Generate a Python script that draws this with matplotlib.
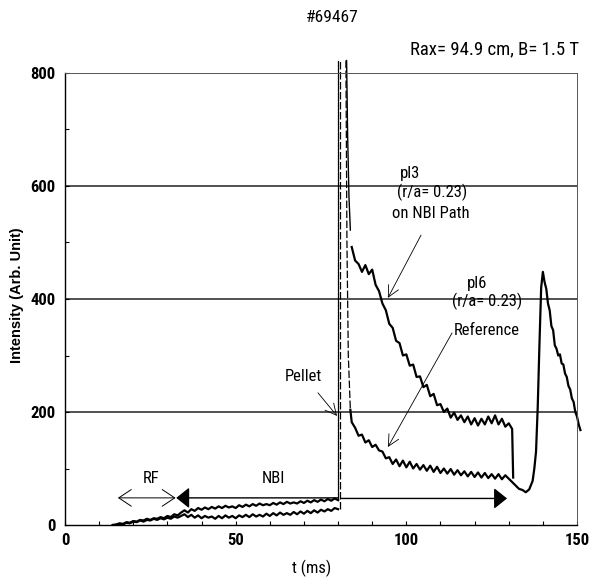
import numpy as np
import matplotlib
matplotlib.use('Agg')
import matplotlib.pyplot as plt
from matplotlib import font_manager

# --- data ---
# pre-pellet traces, t = 14 .. 80 ms (1 ms steps)
pl3_pre = [0, 1, 3, 2, 5, 4, 7, 6, 9, 8,
           11, 9, 12, 11, 14, 12, 16, 14, 19, 17,
           22, 26, 22, 28, 25, 30, 27, 31, 28, 32,
           29, 33, 30, 34, 31, 33, 30, 35, 32, 36,
           33, 37, 34, 38, 35, 37, 35, 39, 36, 40,
           37, 41, 38, 40, 38, 42, 39, 43, 40, 44,
           41, 45, 42, 46, 43, 47, 44]
pl6_pre = [0, 0, 2, 1, 4, 3, 6, 5, 8, 6,
           9, 8, 11, 9, 12, 10, 13, 11, 15, 13,
           16, 19, 14, 18, 13, 17, 12, 16, 13, 15,
           11, 16, 12, 17, 13, 16, 12, 17, 14, 18,
           14, 19, 15, 18, 15, 20, 16, 21, 17, 22,
           18, 21, 18, 23, 19, 24, 20, 25, 21, 26,
           22, 27, 24, 28, 25, 30, 28]
t_pre = np.arange(14, 14 + len(pl3_pre))

# pellet spike (drawn off the top of the frame)
pl3_spike_t = [82.5, 82.8, 83.2, 83.6]
pl3_spike_v = [822, 690, 580, 522]
pl6_spike_t = [82.3, 82.6, 83.0, 83.6]
pl6_spike_v = [822, 500, 300, 204]

# pl3 after pellet, t = 84 .. 131 ms
pl3_post = [492, 468, 462, 448, 460, 444, 452, 425, 414, 392,
            380, 356, 349, 326, 322, 300, 302, 282, 284, 262,
            263, 244, 248, 228, 232, 212, 214, 200, 206, 190,
            199, 186, 194, 182, 192, 178, 189, 176, 188, 178,
            192, 180, 194, 178, 188, 174, 180, 170]
t3_post = np.arange(84, 84 + len(pl3_post))

# pl6 after pellet
t6_post = [83.6] + list(range(84, 138)) + [
    137.5, 138, 138.5, 139, 139.5, 140, 140.5, 141, 141.5, 142,
    142.5, 143, 143.5, 144, 144.5, 145, 145.5, 146, 146.5, 147,
    147.5, 148, 148.5, 149, 149.5, 150, 150.5, 151]
pl6_post = [204,
            182, 172, 158, 160, 146, 150, 138, 142, 132, 130, 118, 120,
            108, 116, 104, 114, 102, 112, 100, 108, 98, 106,
            96, 105, 94, 103, 92, 100, 91, 99, 89, 97,
            88, 95, 86, 94, 85, 93, 84, 92, 83, 90,
            82, 90, 81, 88, 82, 76, 70, 64, 62, 58, 63, 78,
            100, 130, 210, 320, 420, 448, 430, 418, 392, 380,
            352, 345, 318, 312, 300, 302, 286, 284, 268, 262,
            246, 240, 224, 218, 200, 192, 178, 168]

names = {f.name for f in font_manager.fontManager.ttflist}
narrow = 'Liberation Sans'
for cand in ['Liberation Sans Narrow', 'Arial Narrow', 'Roboto Condensed',
             'Archivo Narrow', 'Liberation Sans']:
    if cand in names:
        narrow = cand
        break

fig = plt.figure(figsize=(5.9, 5.86), dpi=100)
ax = fig.add_axes([65/590, 1-525/586, 512/590, 452/586])

for v in [200, 400, 600]:
    ax.axhline(v, color='#333333', lw=1.2, zorder=1)

lw = 1.6
ax.plot(t_pre, pl6_pre, color='black', lw=lw)
ax.plot(t_pre, pl3_pre, color='black', lw=lw)
ax.plot([80, 80], [pl3_pre[-1], 822], color='black', lw=0.9, clip_on=False)
ax.plot([80.6, 80.6], [pl6_pre[-1], 822], color='black', lw=0.9,
        ls=(0, (6, 2)), clip_on=False)
ax.plot(pl6_spike_t, pl6_spike_v, color='black', lw=0.9, ls=(0, (6, 2)), clip_on=False)
ax.plot(pl3_spike_t, pl3_spike_v, color='black', lw=1.0, clip_on=False)
ax.plot(list(t3_post) + [131.3], pl3_post + [84], color='black', lw=lw)
ax.plot(t6_post, pl6_post, color='black', lw=lw, clip_on=False)

ax.set_xlim(0, 150)
ax.set_ylim(0, 800)
ax.set_xticks([0, 50, 100, 150])
ax.set_xticks(np.arange(0, 151, 10), minor=True)
ax.set_yticks([0, 200, 400, 600, 800])
ax.set_yticks(np.arange(0, 801, 100), minor=True)
ax.tick_params(which='both', direction='in', length=3, width=0.8, top=False, right=False)
ax.tick_params(axis='x', pad=6)
ax.tick_params(axis='y', pad=7)
for lab in ax.get_xticklabels() + ax.get_yticklabels():
    lab.set_family(narrow)
    lab.set_fontsize(12)
    lab.set_fontweight('bold')

for s in ['top', 'right']:
    ax.spines[s].set_linestyle((0, (1, 1)))
    ax.spines[s].set_linewidth(0.7)
    ax.spines[s].set_color('#555555')
for s in ['left', 'bottom']:
    ax.spines[s].set_linewidth(1.0)

# annotations
tk = dict(family=narrow, fontsize=12, color='black')
ax.text(98.2, 623, 'pl3', ha='left', va='center', **tk)
ax.text(107.5, 588, '(r/a= 0.23)', ha='center', va='center', **tk)
ax.text(107.2, 552, 'on NBI Path', ha='center', va='center', **tk)
ax.text(120.7, 428, 'pl6', ha='center', va='center', **tk)
ax.text(123.6, 395, '(r/a= 0.23)', ha='center', va='center', **tk)
ax.text(123.6, 345, 'Reference', ha='center', va='center', **tk)
ax.text(69.8, 262, 'Pellet', ha='center', va='center', **tk)
ax.text(25.2, 83, 'RF', ha='center', va='center', **tk)
ax.text(61.0, 83, 'NBI', ha='center', va='center', **tk)

thin = dict(arrowstyle='->,head_length=0.4,head_width=0.2', lw=0.6, color='black',
            mutation_scale=20, shrinkA=0, shrinkB=0)
ax.annotate('', xy=(94.6, 402), xytext=(104.3, 513), arrowprops=thin)
ax.annotate('', xy=(94.6, 138), xytext=(113.4, 340), arrowprops=thin)
ax.annotate('', xy=(79.7, 193), xytext=(74.1, 234), arrowprops=thin)

ax.annotate('', xy=(15.5, 48), xytext=(32.4, 48),
            arrowprops=dict(arrowstyle='<->,head_length=0.45,head_width=0.3', lw=0.7,
                            color='black', mutation_scale=20, shrinkA=0, shrinkB=0))
ax.annotate('', xy=(32.6, 48), xytext=(80, 48),
            arrowprops=dict(arrowstyle='-|>,head_length=0.4,head_width=0.32', lw=1.0,
                            color='black', mutation_scale=20, shrinkA=0, shrinkB=0))
ax.annotate('', xy=(129.5, 47), xytext=(81, 47),
            arrowprops=dict(arrowstyle='-|>,head_length=0.4,head_width=0.32', lw=1.0,
                            color='black', mutation_scale=20, shrinkA=0, shrinkB=0))

fig.text(332/590, 1-18/586, '#69467', ha='center', va='center', family=narrow, fontsize=12.5)
fig.text(494/590, 1-49/586, 'Rax= 94.9 cm, B= 1.5 T', ha='center', va='center',
         family=narrow, fontsize=13.5)
fig.text(312/590, 1-568/586, 't (ms)', ha='center', va='center', family=narrow, fontsize=12)
fig.text(17/590, 1-295/586, 'Intensity (Arb. Unit)', ha='center', va='center',
         rotation=90, family='Liberation Sans', fontweight='bold', fontsize=10.5)

fig.savefig('out.png', dpi=100)
